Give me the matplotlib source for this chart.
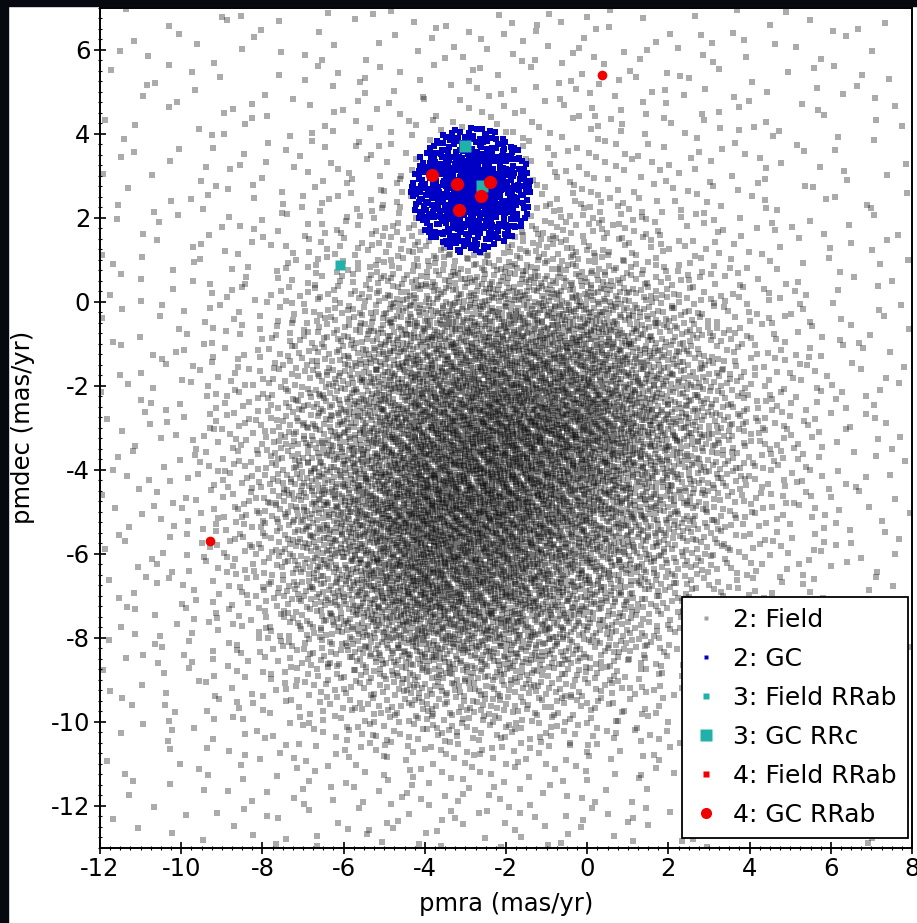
import numpy as np
import matplotlib
matplotlib.use("Agg")
import matplotlib.pyplot as plt
from matplotlib.lines import Line2D
from matplotlib.patches import Rectangle
from matplotlib.ticker import MultipleLocator

# ---- field stars: surface density (stars per (mas/yr)^2) on a 2 mas/yr grid
density_pmra = [-12, -10, -8, -6, -4, -2, 0, 2, 4, 6, 8]
density_pmdec = [7, 5, 3, 1, -1, -3, -5, -7, -9, -11, -13]
field_density = [
    [2, 2, 3, 3, 3, 4, 4, 3, 3, 2, 2],             # pmdec =  7
    [2, 3, 3, 4, 5, 6, 6, 5, 4, 3, 2],             # pmdec =  5
    [2, 3, 5, 7, 10, 12, 10, 7, 5, 3, 2],          # pmdec =  3
    [3, 4, 7, 14, 28, 35, 28, 14, 7, 4, 3],        # pmdec =  1
    [3, 5, 11, 35, 80, 100, 95, 45, 14, 6, 3],     # pmdec = -1
    [3, 6, 20, 60, 125, 150, 130, 70, 24, 7, 3],   # pmdec = -3
    [3, 6, 24, 80, 150, 145, 100, 52, 17, 6, 3],   # pmdec = -5
    [3, 6, 17, 60, 125, 110, 65, 27, 10, 5, 3],    # pmdec = -7
    [3, 5, 10, 23, 45, 42, 27, 12, 6, 3, 2],       # pmdec = -9
    [2, 3, 5, 7, 9, 9, 7, 5, 3, 3, 2],             # pmdec = -11
    [2, 2, 3, 4, 5, 5, 4, 3, 3, 2, 2],             # pmdec = -13
]

# ---- globular cluster members: centre, selection radius, density per 0.25 ring
gc_center = (-2.85, 2.65)
gc_radius = 1.5
gc_ring_density = [220, 150, 110, 85, 70, 60]

# ---- RR Lyrae stars
field_rrab3_pmra = [-6.10]
field_rrab3_pmdec = [0.86]
gc_rrc3_pmra = [-3.02, -2.60]
gc_rrc3_pmdec = [3.70, 2.74]
field_rrab4_pmra = [0.36, -9.28]
field_rrab4_pmdec = [5.40, -5.70]
gc_rrab4_pmra = [-3.82, -3.21, -2.40, -2.61, -3.16]
gc_rrab4_pmdec = [3.01, 2.80, 2.84, 2.52, 2.17]


def radical_inverse(idx, base):
    """Van der Corput radical inverse, used for the Halton point set."""
    idx = np.array(idx, dtype=np.int64)
    out = np.zeros(idx.shape)
    f = 1.0 / base
    while np.any(idx > 0):
        out += f * (idx % base)
        idx //= base
        f /= base
    return out


# bilinear density surface on a fine mesh (pmdec ascending)
h = 0.05
xe = np.arange(-12, 8 + h / 2, h)
ye = np.arange(-13, 7 + h / 2, h)
xc = 0.5 * (xe[:-1] + xe[1:])
yc = 0.5 * (ye[:-1] + ye[1:])
tab = np.array(field_density, float)[::-1]
ynodes = np.array(density_pmdec, float)[::-1]
rows_x = np.array([np.interp(xc, density_pmra, r) for r in tab])
dens = np.array([np.interp(yc, ynodes, rows_x[:, j]) for j in range(len(xc))]).T
w = dens * h * h
n_field = int(round(w.sum()))

# place the field stars by inverse-CDF mapping of a Halton set
k = np.arange(1, n_field + 1)
hx = radical_inverse(k, 2)
hy = radical_inverse(k, 3)
row_mass = w.sum(axis=1)
cdf_y = np.concatenate([[0], np.cumsum(row_mass)]) / row_mass.sum()
fy = np.interp(hy, cdf_y, ye)
row = np.clip(np.searchsorted(ye, fy) - 1, 0, len(yc) - 1)
fx = np.empty(n_field)
for r in np.unique(row):
    sel = row == r
    cdf_x = np.concatenate([[0], np.cumsum(w[r])]) / row_mass[r]
    fx[sel] = np.interp(hx[sel], cdf_x, xe)
outside = (fx - gc_center[0]) ** 2 + (fy - gc_center[1]) ** 2 > gc_radius ** 2
fx, fy = fx[outside], fy[outside]

# cluster members in rings
nring = len(gc_ring_density)
redges = np.linspace(0, gc_radius, nring + 1)
ring_n = np.array(gc_ring_density) * np.pi * (redges[1:] ** 2 - redges[:-1] ** 2)
n_gc = int(round(ring_n.sum()))
cdf_r = np.concatenate([[0], np.cumsum(ring_n)]) / ring_n.sum()
kk = np.arange(1, n_gc + 1) + 7919
ur = radical_inverse(kk, 3)
ut = radical_inverse(kk, 2)
ring = np.clip(np.searchsorted(cdf_r, ur) - 1, 0, nring - 1)
frac = (ur - cdf_r[ring]) / (cdf_r[ring + 1] - cdf_r[ring])
rr = np.sqrt(redges[ring] ** 2 + frac * (redges[ring + 1] ** 2 - redges[ring] ** 2))
gx = gc_center[0] + rr * np.cos(2 * np.pi * ut)
gy = gc_center[1] + rr * np.sin(2 * np.pi * ut)

plt.rcParams['font.family'] = ['DejaVu Sans']
plt.rcParams['axes.unicode_minus'] = False

fig = plt.figure(figsize=(9.17, 9.23), dpi=100)
fig.patch.set_facecolor('white')
ax = fig.add_axes([100 / 917, 1 - 847.5 / 923, 812 / 917, 840 / 923])

ax.scatter(fx, fy, s=13, marker='s', c='black', alpha=0.33, linewidths=0, zorder=1)
ax.scatter(gx, gy, s=13, marker='s', c='#0000c4', linewidths=0, zorder=2)
ax.plot(field_rrab3_pmra, field_rrab3_pmdec, 's', color='#20b2aa', ms=7, mec='none', zorder=3)
ax.plot(gc_rrc3_pmra, gc_rrc3_pmdec, 's', color='#20b2aa', ms=8.5, mec='none', zorder=3)
ax.plot(field_rrab4_pmra, field_rrab4_pmdec, 'o', color='#f00000', ms=7, mec='none', zorder=4)
ax.plot(gc_rrab4_pmra, gc_rrab4_pmdec, 'o', color='#f00000', ms=9.5, mec='none', zorder=4)

ax.set_xlim(-12, 8)
ax.set_ylim(-13, 7)
ax.xaxis.set_major_locator(MultipleLocator(2))
ax.yaxis.set_major_locator(MultipleLocator(2))
ax.xaxis.set_minor_locator(MultipleLocator(0.25))
ax.yaxis.set_minor_locator(MultipleLocator(0.25))
ax.tick_params(which='major', direction='inout', length=8, width=1.2, labelsize=17.5,
               top=False, right=False, pad=3)
ax.tick_params(which='minor', direction='inout', length=3.5, width=0.8, top=False, right=False)
for s in ax.spines.values():
    s.set_linewidth(1.4)

ax.set_xlabel('pmra (mas/yr)', fontsize=17.5, labelpad=8)
ax.set_ylabel('pmdec (mas/yr)', fontsize=17.5, labelpad=11)

handles = [
    Line2D([], [], ls='none', marker='s', ms=2.2, color='#a0a0a0', mec='none'),
    Line2D([], [], ls='none', marker='s', ms=2.2, color='#0000c4', mec='none'),
    Line2D([], [], ls='none', marker='s', ms=5, color='#20b2aa', mec='none'),
    Line2D([], [], ls='none', marker='s', ms=8, color='#20b2aa', mec='none'),
    Line2D([], [], ls='none', marker='s', ms=4.5, color='#f00000', mec='none'),
    Line2D([], [], ls='none', marker='o', ms=8, color='#f00000', mec='none'),
]
labels = ['2: Field', '2: GC', '3: Field RRab', '3: GC RRc', '4: Field RRab', '4: GC RRab']
leg = ax.legend(handles, labels, loc='lower right', bbox_to_anchor=(0.995, 0.011),
                borderaxespad=0, fontsize=18, frameon=True, fancybox=False,
                framealpha=1, edgecolor='black', handlelength=1.0, handletextpad=0.6,
                labelspacing=0.6, borderpad=0.45)
leg.get_frame().set_linewidth(1.3)
leg.set_zorder(10)

# dark strips along the left and top edges of the canvas
fig.patches.append(Rectangle((0, 0), 8 / 917, 1, transform=fig.transFigure,
                             color='#060a10', zorder=0))
fig.patches.append(Rectangle((0, 1 - 6 / 923), 1, 6 / 923, transform=fig.transFigure,
                             color='#060a10', zorder=0))

fig.savefig('out.png', dpi=100)
